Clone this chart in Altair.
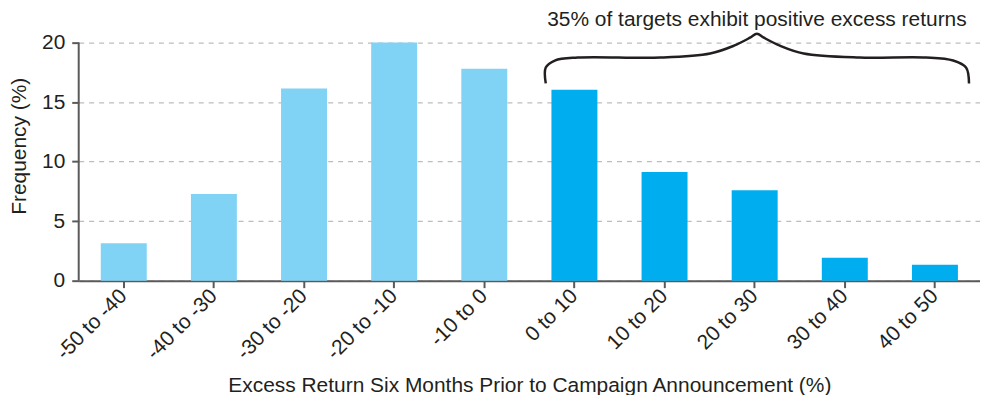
import altair as alt
import pandas as pd

categories = ["-50 to -40", "-40 to -30", "-30 to -20", "-20 to -10", "-10 to 0",
              "0 to 10", "10 to 20", "20 to 30", "30 to 40", "40 to 50"]
frequency = [3.15, 7.28, 16.15, 20.0, 17.8, 16.04, 9.12, 7.6, 1.92, 1.34]
group = ["neg"] * 5 + ["pos"] * 5
y_ticks = [0, 5, 10, 15, 20]

# curly brace annotation (x in category-index units, y in frequency units)
brace_x = [5.182, 5.182, 5.282, 5.536, 6.453, 7.006, 7.271, 7.448, 7.525,
           7.602, 7.779, 8.044, 8.663, 9.403, 9.702, 9.845, 9.878]
brace_y = [16.57, 17.9, 18.49, 18.74, 18.74, 19.08, 19.74, 20.41, 20.75,
           20.41, 19.74, 19.08, 18.74, 18.74, 18.49, 17.9, 16.57]
note_text = ["35% of targets exhibit positive excess returns"]
note_x = [7.525]
note_y = [21.9]

FONT = "Liberation Sans"
TXT = "#231f20"
AX = "#5a5a5a"
YMAX = 22.67

bars_df = pd.DataFrame({"cat": categories, "freq": frequency, "grp": group})
brace_df = pd.DataFrame({"bx": brace_x, "by": brace_y, "i": list(range(len(brace_x)))})
note_df = pd.DataFrame({"t": note_text, "nx": note_x, "ny": note_y})
axis_df = pd.DataFrame({"y0": [y_ticks[0]], "y1": [y_ticks[-1]]})

yscale = alt.Scale(domain=[0, YMAX], nice=False, zero=True)

bars = alt.Chart(bars_df).mark_bar().encode(
    x=alt.X("cat:N", sort=categories,
            scale=alt.Scale(paddingInner=0.49, paddingOuter=0.245),
            axis=alt.Axis(title="Excess Return Six Months Prior to Campaign Announcement (%)",
                          labelAngle=-45, labelAlign="right", labelBaseline="middle",
                          labelFontSize=21, labelColor=TXT, labelFont=FONT,
                          titleFontSize=21, titleFont=FONT, titleColor=TXT, titleFontWeight="normal",
                          titlePadding=12, domainColor=AX, domainWidth=2, tickColor=AX,
                          tickWidth=2, tickSize=7, labelPadding=5, grid=False)),
    y=alt.Y("freq:Q", scale=yscale,
            axis=alt.Axis(title="Frequency (%)", values=y_ticks,
                          labelFontSize=21, labelColor=TXT, labelFont=FONT,
                          titleFontSize=21, titleFont=FONT, titleColor=TXT, titleFontWeight="normal",
                          titlePadding=12, domain=False, tickColor=AX,
                          tickWidth=2, tickSize=7, labelPadding=7,
                          grid=True, gridColor="#bdbdbd", gridDash=[5, 5], gridWidth=1.3)),
    color=alt.Color("grp:N", scale=alt.Scale(domain=["neg", "pos"], range=["#80d3f5", "#00aeef"]),
                    legend=None),
)

yaxis_line = alt.Chart(axis_df).mark_rule(color=AX, strokeWidth=2).encode(
    x=alt.value(0),
    y=alt.Y("y0:Q", scale=yscale, axis=None),
    y2="y1:Q",
)

xq = alt.Scale(domain=[0, 10], nice=False, zero=False)

brace = alt.Chart(brace_df).mark_line(interpolate="catmull-rom", color=TXT, strokeWidth=2.5).encode(
    x=alt.X("bx:Q", scale=xq, axis=None),
    y=alt.Y("by:Q", scale=yscale, axis=None),
    order=alt.Order("i:Q"),
)

note = alt.Chart(note_df).mark_text(font=FONT, fontSize=21, color=TXT, baseline="middle",
                                    align="center").encode(
    x=alt.X("nx:Q", scale=xq, axis=None),
    y=alt.Y("ny:Q", scale=yscale, axis=None),
    text="t:N",
)

chart = alt.layer(bars, yaxis_line, brace, note).resolve_scale(x="independent").resolve_axis(
    x="independent", y="independent"
).properties(
    width=905, height=271,
    autosize=alt.AutoSizeParams(type="none"),
    padding={"left": 71, "top": 2, "right": 0, "bottom": 114},
).configure_view(stroke=None)

chart.save("out.html", embed_options={"renderer": "svg", "actions": False})
